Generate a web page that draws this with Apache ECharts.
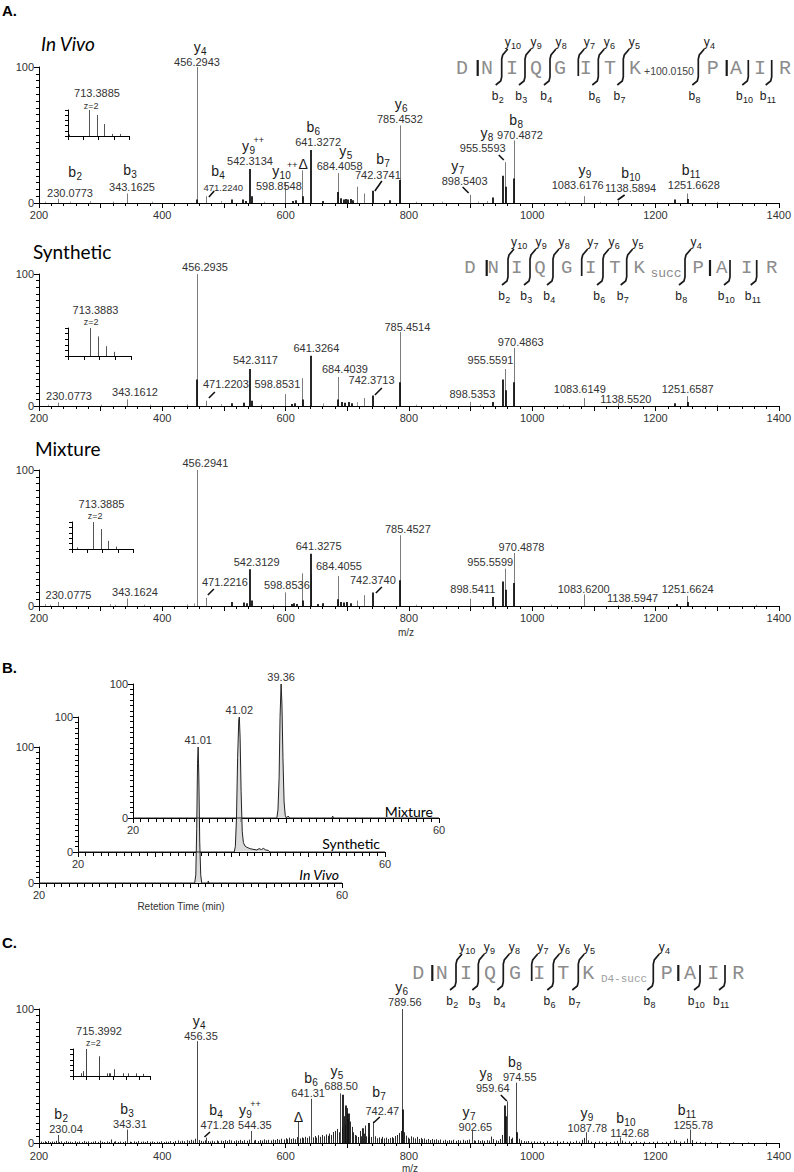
<!DOCTYPE html>
<html>
<head>
<meta charset="utf-8">
<title>Spectra</title>
<script src="https://cdn.jsdelivr.net/npm/echarts@6/dist/echarts.min.js"></script>
<style>
html,body{margin:0;padding:0;background:#ffffff;}
#chart{width:794px;height:1172px;}
</style>
</head>
<body>
<div id="chart"></div>
<script>
// ===================== DATA =====================
// Panel A - In Vivo (m/z, relative intensity %)
const invivoMz = [230.08, 343.16, 456.29, 471.22, 598.85, 626.8, 684.41, 716.0, 727.0, 785.45, 898.54, 955.56, 970.49, 1083.62, 1138.59, 1251.66];
const invivoInt = [3, 7, 100, 5, 15, 24, 22, 12, 7, 57, 6, 30, 46, 5, 1.5, 7];
const invivoDenseMz = [455.8, 513.5, 531, 536, 542.31, 545, 612, 617, 628.5, 641.33, 660, 684.9, 690, 694, 698, 702, 706, 710, 742.37, 769, 786, 936, 953, 957.5, 971, 1232, 1252.2];
const invivoDenseInt = [2.5, 2.5, 2.5, 1.5, 25, 5, 1.5, 2, 5, 39, 1.5, 8, 3.5, 2.5, 3, 2.5, 3, 2, 9, 2, 17, 4, 20, 12, 18, 2.5, 3];
const invivoMinorMz = [210, 250, 282, 320, 383, 496, 565, 812, 853, 912, 926, 1053, 1110, 1300];
const invivoMinorInt = [1, 1, 1.5, 1, 1, 1.5, 1, 1, 1, 1, 1.5, 1, 0.8, 0.8];
const invivoLabelMz = [230.08, 343.16, 456.29, 471.22, 542.31, 598.85, 626.8, 641.33, 684.41, 742.37, 785.45, 898.54, 955.56, 970.49, 1083.62, 1138.59, 1251.66];
const invivoIons = ['b2','b3','y4','b4','y9++','y10++','Δ','b6','y5','b7','y6','y7','y8','b8','y9','b10','b11'];
const invivoLabels = ['230.0773','343.1625','456.2943','471.2240','542.3134','598.8548','','641.3272','684.4058','742.3741','785.4532','898.5403','955.5593','970.4872','1083.6176','1138.5894','1251.6628'];

// Panel A - Synthetic
const synthMz = [230.08, 343.16, 456.29, 471.22, 598.85, 626.8, 684.40, 727.0, 785.45, 898.54, 955.56, 970.49, 1083.61, 1138.55, 1251.66];
const synthInt = [2.5, 5, 100, 4, 9, 21, 22, 6, 56, 3, 28, 44, 6, 2, 7.5];
const synthDenseMz = [455.8, 513.5, 533, 542.31, 545, 610, 615, 628.5, 641.33, 684.9, 692, 697, 703, 708, 742.37, 786, 936, 953, 957.5, 971, 1232, 1252.2];
const synthDenseInt = [20, 2, 2.5, 28, 4, 1.5, 2, 5, 38, 5, 3, 2.5, 3, 2, 8, 18, 3, 20, 12, 18, 2, 3];
const synthMinorMz = [215, 300, 380, 440, 496, 560, 660, 716, 812, 850, 915, 1050, 1300];
const synthMinorInt = [1, 1, 1, 1.2, 1.5, 1, 2, 3, 1, 1, 1, 1, 0.8];
const synthLabelMz = [230.08, 343.16, 456.29, 471.22, 542.31, 598.85, 641.33, 684.41, 742.37, 785.45, 898.54, 955.56, 970.49, 1083.62, 1138.59, 1251.66];
const synthLabels = ['230.0773','343.1612','456.2935','471.2203','542.3117','598.8531','641.3264','684.4039','742.3713','785.4514','898.5353','955.5591','970.4863','1083.6149','1138.5520','1251.6587'];

// Panel A - Mixture
const mixMz = [230.08, 343.16, 456.29, 471.22, 598.85, 626.8, 641.0, 684.41, 716.0, 727.0, 785.45, 898.54, 955.56, 970.49, 1083.62, 1138.59, 1251.66];
const mixInt = [3, 5.5, 100, 6, 10, 24, 23, 22, 4, 8, 52, 5.4, 27.5, 39, 8.5, 0.5, 7.5];
const mixDenseMz = [513.5, 533, 537, 542.31, 545, 610, 614, 618, 628.5, 641.33, 652, 660, 684.9, 690, 695, 700, 706, 742.37, 786, 936, 953, 957.5, 971, 1235, 1252.2];
const mixDenseInt = [3, 2.5, 2, 27, 4, 1.5, 2, 1.5, 4, 38.5, 1.5, 2, 5, 3, 2.5, 3, 2, 10, 19, 6.6, 18, 12, 17, 1.5, 3];
const mixMinorMz = [210, 218, 315, 323, 370, 440, 452, 580, 812, 1030, 1363];
const mixMinorInt = [1.5, 1, 1.5, 0.8, 1, 1.2, 2, 1, 1, 1, 1];
const mixLabelMz = [230.08, 343.16, 456.29, 471.22, 542.31, 598.85, 641.33, 684.41, 742.37, 785.45, 898.54, 955.56, 970.49, 1083.62, 1138.59, 1251.66];
const mixLabels = ['230.0775','343.1624','456.2941','471.2216','542.3129','598.8536','641.3275','684.4055','742.3740','785.4527','898.5411','955.5599','970.4878','1083.6200','1138.5947','1251.6624'];

// Precursor insets (m/z, %)
const insetInvivoMz = [712.05, 713.39, 713.89, 714.39, 714.89, 715.39];
const insetInvivoInt = [6, 100, 81, 46, 8, 8];
const insetSynthMz = [713.39, 713.89, 714.39, 714.89];
const insetSynthInt = [100, 70, 35, 15];
const insetMixMz = [712.3, 713.39, 713.89, 714.39, 714.89];
const insetMixInt = [6, 100, 74, 30, 9];
const insetCMz = [715.2, 715.29, 715.40, 715.89, 716.19, 716.24, 716.30, 716.45, 716.77, 716.98, 717.29, 717.54];
const insetCInt = [10, 18, 100, 73, 10, 10, 10, 25, 10, 10, 10, 8];
const precursorLabels = ['713.3885', '713.3883', '713.3885', '715.3992'];
const chargeLabel = 'z=2';

// Panel B - extracted ion chromatograms (retention time min, %)
const rtInvivo = [20, 40.55, 40.7, 40.82, 40.93, 41.01, 41.1, 41.22, 41.35, 41.48, 42.3, 42.35, 42.42, 60];
const intInvivo = [0, 0, 6, 40, 88, 100, 78, 30, 6, 0, 0, 1.5, 0, 0];
const rtSynth = [20, 40.35, 40.5, 40.65, 40.8, 40.95, 41.02, 41.12, 41.25, 41.4, 41.55, 41.75, 42.0, 42.4, 42.8, 43.3, 43.6, 43.9, 44.2, 44.4, 44.8, 45.0, 60];
const intSynth = [0, 0, 4, 25, 70, 98, 100, 85, 45, 15, 7, 4.5, 3.5, 2.5, 2, 1.5, 2.5, 1.8, 2.8, 1.5, 1.2, 0, 0];
const rtMix = [20, 38.8, 38.95, 39.1, 39.22, 39.36, 39.47, 39.6, 39.75, 39.9, 40.05, 40.3, 40.45, 46.0, 46.1, 46.2, 60];
const intMix = [0, 0, 6, 30, 75, 100, 85, 45, 12, 2, 0, 1.5, 0, 0, 1.5, 0, 0];
const apexRt = [41.01, 41.02, 39.36];
const apexLabels = ['41.01', '41.02', '39.36'];
const traceNames = ['In Vivo', 'Synthetic', 'Mixture'];

// Panel C - D4-succinyl
const cMz = [230.04, 343.31, 456.35, 471.28, 544.35, 620.5, 641.31, 688.8, 742.47, 789.56, 902.65, 959.64, 974.55, 1087.78, 1142.68, 1255.78];
const cInt = [6, 10, 76, 4, 9, 16, 33, 37, 16, 100, 9, 31, 45, 8, 4, 10];
const cDenseMz = [693.5, 698, 700.5, 725, 735, 790.3, 955.8, 958, 975.3];
const cDenseInt = [36, 28, 22, 11, 15, 25, 28, 20, 8];
const cIons = ['b2','b3','y4','b4','y9++','Δ','b6','y5','b7','y6','y7','y8','b8','y9','b10','b11'];
const cLabels = ['230.04','343.31','456.35','471.28','544.35','','641.31','688.50','742.47','789.56','902.65','959.64','974.55','1087.78','1142.68','1255.78'];
const cNoise = [[203,1.0],[206,0.6],[209,1.3],[212,0.8],[215,1.5],[218,0.7],[221,1.1],[224,0.9],[227,1.6],[233,0.8],[236,1.2],[240,0.6],[243,1.4],[247,0.9],[251,1.0],[254,0.6],[258,1.3],[262,0.8],[265,1.1],[269,0.7],[273,1.5],[276,0.9],[280,1.2],[284,0.6],[288,1.0],[291,1.4],[295,0.8],[299,1.8],[302,0.9],[306,0.7],[310,1.2],[313,0.8],[317,2.6],[321,0.9],[324,1.3],[328,0.7],[332,1.1],[336,0.8],[339,1.3],[347,1.0],[350,0.7],[354,1.2],[358,0.8],[361,1.4],[365,0.9],[369,1.1],[372,0.7],[376,1.5],[380,0.9],[384,1.2],[387,0.7],[391,1.0],[395,0.8],[398,1.3],[402,0.7],[406,1.1],[410,0.9],[413,1.4],[417,0.8],[421,1.5],[425,1.9],[428,1.2],[432,1.7],[436,1.3],[440,2.1],[444,1.6],[447,2.4],[450,1.8],[453,3.2],[459,2.2],[462,1.6],[466,1.2],[469,2.0],[474,1.5],[477,1.1],[481,1.7],[484,1.2],[488,1.9],[491,1.3],[495,1.8],[498,1.4],[502,2.1],[505,1.5],[509,2.4],[512,1.9],[516,1.4],[519,2.0],[523,1.6],[526,2.3],[530,1.5],[533,2.1],[537,1.7],[540,2.5],[548,1.8],[551,2.3],[555,1.5],[558,2.1],[562,1.8],[565,2.7],[569,2.0],[572,2.4],[576,1.9],[579,2.6],[583,2.2],[586,3.0],[590,2.4],[593,3.2],[597,2.6],[600,3.6],[603,2.8],[606,4.0],[609,3.0],[612,3.5],[615,2.8],[618,4.4],[623,3.4],[626,4.2],[629,3.6],[632,4.6],[635,3.8],[638,5.0],[644,4.2],[647,5.2],[650,4.0],[653,5.8],[656,4.6],[659,6.0],[662,5.0],[665,6.4],[668,5.4],[671,7.0],[674,6.0],[677,8.2],[680,9.0],[683,10.5],[686,8.0],[691,12],[694,20],[696,14],[699,26],[701,18],[703,22],[705,16],[707,12],[709,8],[712,6],[715,5.5],[718,4.5],[721,9],[723,5],[727,7],[729,13],[731,5],[733,4],[736,6],[739,4.5],[745,5],[748,3.5],[751,4.2],[754,3.2],[757,4.6],[760,3.4],[763,4.0],[766,3.0],[769,3.8],[772,4.4],[775,3.6],[778,5.2],[781,6.0],[784,7.5],[787,9],[792,8],[795,5.5],[798,4.0],[801,3.2],[804,5.0],[807,4.2],[810,3.4],[813,4.6],[816,3.0],[819,3.8],[822,2.8],[825,3.4],[828,2.4],[831,3.0],[835,2.2],[838,3.0],[841,2.4],[844,2.8],[848,2.0],[851,2.6],[855,1.8],[858,2.4],[862,1.6],[865,2.2],[869,1.8],[872,2.4],[876,1.6],[880,2.2],[883,1.8],[887,2.4],[891,1.7],[894,2.2],[898,2.6],[905,2.0],[908,1.6],[912,2.2],[915,1.5],[919,2.0],[922,1.6],[926,2.1],[930,1.8],[934,4.8],[937,3.0],[941,2.0],[944,1.6],[948,3.0],[951,6],[962,5],[965,3.0],[968,4.0],[979,3.2],[982,2.0],[986,1.4],[990,1.2],[994,1.5],[998,1.0],[1003,1.3],[1008,0.9],[1013,1.2],[1018,0.8],[1024,1.3],[1029,0.8],[1034,1.1],[1040,1.6],[1045,0.9],[1050,1.4],[1056,0.9],[1061,1.2],[1066,0.8],[1071,1.7],[1076,1.0],[1081,2.4],[1084,3.8],[1091,2.0],[1096,1.0],[1102,0.8],[1108,1.2],[1114,0.8],[1120,1.0],[1126,0.7],[1132,1.1],[1138,1.6],[1145,1.8],[1151,0.9],[1157,1.2],[1163,0.7],[1169,1.4],[1175,0.7],[1182,1.0],[1189,0.7],[1196,0.9],[1203,1.1],[1210,0.6],[1217,0.9],[1224,1.3],[1230,2.4],[1234,1.6],[1240,1.0],[1246,1.2],[1251,3.2],[1259,2.2],[1265,0.9],[1272,0.7],[1280,0.5],[1290,0.6],[1305,0.4],[1325,0.5],[1350,0.4],[1380,0.4]];

// Peptide sequence annotation
const peptide = ['D','N','I','Q','G','I','T','K','P','A','I','R'];
const cleavageKind = ['bar','both','both','both','top','both','both','both','bar','bottom','bottom'];
const yIonAtGap = ['','y10','y9','y8','y7','y6','y5','y4','','',''];
const bIonAtGap = ['','b2','b3','b4','','b6','b7','b8','','b10','b11'];
const modLabels = ['+100.0150', 'succ', 'D4-succ'];

// ===================== LAYOUT (pixel offsets, styles) =====================
const FONT = "'Liberation Sans', Arial, sans-serif";
const MONO = "'Liberation Mono', 'DejaVu Sans Mono', monospace";
const TF = "Lato, 'Open Sans', sans-serif";

// label offsets relative to the peak's baseline point
const invivoLabelLayout = [
 {ion:[17.5,-31], num:[12.5,-10]},
 {ion:[2.7,-33], num:[4.7,-16]},
 {ion:[3,-156], num:[0,-141]},
 {ion:[11.7,-32], num:[17,-16], small:true, lead:[2.7,-6,8,-12]},
 {ion:[3,-57], num:[0,-42]},
 {ion:[0,-32], num:[-6,-17]},
 {ion:[1,-39]},
 {ion:[2,-76], num:[7,-61]},
 {ion:[8,-52], num:[2,-37]},
 {ion:[9.5,-44], num:[4.5,-28], lead:[1.5,-12,8.5,-22]},
 {ion:[1,-99], num:[0,-84]},
 {ion:[-12,-37], num:[-5,-22], lead:[-7,-16,-1,-10]},
 {ion:[-18,-70], num:[-22,-55], lead:[-6,-48,-1,-43]},
 {ion:[2,-83], num:[6,-68]},
 {ion:[1,-33], num:[-6,-18]},
 {ion:[13,-30], num:[13,-15], lead:[0,-3,7,-8]},
 {ion:[3.5,-33], num:[6.5,-18]}
];
const synthLabelLayout = [
 {num:[11.5,-10]}, {num:[7.7,-14]}, {num:[8,-139]}, {num:[19.7,-22], lead:[2.7,-8,8.7,-14]},
 {num:[5.4,-46]}, {num:[-7.5,-22]}, {num:[5.3,-58]}, {num:[7.3,-37]}, {num:[-1.8,-26], lead:[1.5,-11,8.5,-18]},
 {num:[7.5,-79]}, {num:[2.7,-12]}, {num:[-14.3,-46]}, {num:[6.8,-64]}, {num:[-3.9,-17]}, {num:[8.2,-7]}, {num:[0.4,-17]}
];
const mixLabelLayout = [
 {num:[11,-11]}, {num:[7.7,-14]}, {num:[8.4,-143]}, {num:[18.7,-24], lead:[1.7,-11,7.7,-17]},
 {num:[6.6,-44]}, {num:[2,-21]}, {num:[7.6,-60]}, {num:[1.3,-40]}, {num:[-0.5,-26], lead:[2.5,-13,8.5,-19]},
 {num:[8,-77]}, {num:[3.2,-17]}, {num:[-14.5,-44]}, {num:[7.5,-59]}, {num:[0,-17]}, {num:[15,-8]}, {num:[0.4,-17]}
];
const cLabelLayout = [
 {ion:[3.5,-29], num:[8.5,-14]},
 {ion:[-0.4,-34], num:[2.6,-19]},
 {ion:[2,-122], num:[4,-107]},
 {ion:[9.7,-33], num:[11.2,-18], lead:[-1.8,-6,3.7,-11]},
 {ion:[-1.4,-33], num:[3.6,-18]},
 {ion:[0.2,-26]},
 {ion:[-0.2,-65], num:[-2.9,-50]},
 {ion:[-3.5,-72], num:[0.8,-57]},
 {ion:[5.4,-51], num:[8.9,-32], lead:[-0.1,-20,6.4,-26]},
 {ion:[-0.9,-156], num:[2.4,-141]},
 {ion:[-3.3,-31], num:[3.2,-16]},
 {ion:[-21.5,-70], num:[-14.5,-55], lead:[-6.5,-48,-0.5,-42]},
 {ion:[-1.7,-81], num:[3.3,-66]},
 {ion:[0.5,-30], num:[1,-15]},
 {ion:[5.6,-25], num:[9.6,-10]},
 {ion:[-3.1,-33], num:[3.4,-18]}
];

const seqLayout = [
 {y:68, size:20, letterX:[462,487,512,536,560,585.7,610,635,712.7,736,760,785], gapX:[477.7,501.7,525,550,578.3,598.3,623.3,698.3,726.7,748.3,771.7], modX:669, modY:71, modFont:"10.5px "+FONT, modColor:'#444'},
 {y:268, size:19, letterX:[470,493.3,516.7,540,566.7,590.7,615,639.3,698.3,721.7,746.7,771.7], gapX:[486.7,508,530,553,581.7,603,626.7,685,710,730,756.7], modX:666, modY:273, modFont:"13px "+MONO, modColor:'#8a8a8a'},
 {y:973, size:20, letterX:[418.3,441.7,466,490,515,539.3,563.3,588.3,666.7,690,713.3,738.3], gapX:[432.3,456,478.3,503.3,531.7,553.3,578.3,653.3,678.3,700,725], modX:624, modY:979, modFont:"11px "+MONO, modColor:'#a0a0a0'}
];

// ===================== HELPERS =====================
const measCtx = document.createElement('canvas').getContext('2d');
function tw(s, size) { measCtx.font = size + 'px ' + FONT; return measCtx.measureText(s).width; }

function ionPieces(label, cx, cy, sz, color) {
  const m = label.match(/^([^\d+]+)(\d*)(\+*)$/);
  const base = m[1], sub = m[2], sup = m[3];
  const wb = tw(base, sz[0]), ws = sub ? tw(sub, sz[1]) : 0, wp = sup ? tw(sup, sz[2]) : 0;
  const supX = wb + ws * 0.6 + 1;
  const total = Math.max(wb + ws, sup ? supX + wp : 0);
  const x0 = cx - total / 2;
  const st = (t, f) => ({text: t, font: f + 'px ' + FONT, fill: color || '#1a1a1a', align: 'left', verticalAlign: 'middle'});
  const out = [{type: 'text', x: x0, y: cy, style: st(base, sz[0])}];
  if (sub) out.push({type: 'text', x: x0 + wb + 0.3, y: cy + sz[0] * 0.32, style: st(sub, sz[1])});
  if (sup) out.push({type: 'text', x: x0 + supX, y: cy - sz[0] * 0.42, style: st(sup, sz[2])});
  return out;
}

function zip(a, b) { return a.map((v, i) => [v, b[i]]); }

function stickSeries(gi, data, color, lw, z) {
  return {type: 'custom', xAxisIndex: gi, yAxisIndex: gi, silent: true, clip: false, animation: false, z: z || 2,
    data: data,
    renderItem: function (params, api) {
      const b = api.coord([api.value(0), 0]);
      const t = api.coord([api.value(0), api.value(1)]);
      const x = lw < 1.5 ? Math.round(b[0]) + 0.5 : Math.round(b[0]);
      return {type: 'line', shape: {x1: x, y1: b[1], x2: x, y2: t[1]}, style: {stroke: color, lineWidth: lw}};
    }};
}

function annotSeries(gi, mz, ions, nums, layout, numSize) {
  return {type: 'custom', xAxisIndex: gi, yAxisIndex: gi, silent: true, clip: false, animation: false, z: 6,
    data: mz.map(m => [m, 0]),
    renderItem: function (params, api) {
      const i = params.dataIndex, L = layout[i];
      const p = api.coord([api.value(0), 0]);
      const ch = [];
      if (L.lead) ch.push({type: 'line', shape: {x1: p[0] + L.lead[0], y1: p[1] + L.lead[1], x2: p[0] + L.lead[2], y2: p[1] + L.lead[3]}, style: {stroke: '#111', lineWidth: 1.6}});
      if (L.num && nums && nums[i]) ch.push({type: 'text', x: p[0] + L.num[0], y: p[1] + L.num[1], style: {text: nums[i], font: (L.small ? 9.5 : numSize) + 'px ' + FONT, fill: '#333', align: 'center', verticalAlign: 'middle'}});
      if (L.ion && ions && ions[i]) ionPieces(ions[i], p[0] + L.ion[0], p[1] + L.ion[1], [14, 10, 9]).forEach(e => ch.push(e));
      return {type: 'group', children: ch};
    }};
}

function apexSeries(gi, rt, text) {
  return {type: 'custom', xAxisIndex: gi, yAxisIndex: gi, silent: true, clip: false, animation: false, z: 6,
    data: [[rt, 100]],
    renderItem: function (params, api) {
      const p = api.coord([api.value(0), api.value(1)]);
      return {type: 'text', x: p[0], y: p[1] - 7, style: {text: text, font: '11px ' + FONT, fill: '#333', align: 'center', verticalAlign: 'middle'}};
    }};
}

function traceSeries(gi, rt, ints) {
  return {type: 'line', xAxisIndex: gi, yAxisIndex: gi, data: zip(rt, ints), symbol: 'none', silent: true, animation: false, z: 3,
    lineStyle: {color: '#222', width: 1}, areaStyle: {color: '#cfcfcf', opacity: 0.75}};
}

// ===================== AXES =====================
const AX = {color: '#000', width: 1};
const grids = [
  {left: 39, top: 67, width: 740, height: 136},
  {left: 68, top: 110, width: 61, height: 26},
  {left: 39, top: 274, width: 740, height: 132},
  {left: 68, top: 328, width: 63, height: 28},
  {left: 39, top: 470, width: 740, height: 136},
  {left: 72, top: 522, width: 61, height: 27},
  {left: 39, top: 747, width: 303, height: 136},
  {left: 78, top: 717, width: 307, height: 135},
  {left: 133, top: 684, width: 306, height: 134},
  {left: 39, top: 1009, width: 740, height: 134},
  {left: 73, top: 1049, width: 77, height: 27}
];
function mzX(gi, margin) {
  return {gridIndex: gi, type: 'value', min: 200, max: 1400, interval: 100,
    axisLine: {show: true, onZero: false, lineStyle: AX}, axisTick: {show: true, length: 5, lineStyle: AX},
    minorTick: {show: true, splitNumber: 5, length: 3, lineStyle: AX},
    axisLabel: {show: true, margin: margin, fontSize: 11, fontFamily: FONT, color: '#333', formatter: v => (v % 200 === 0 ? String(v) : '')},
    splitLine: {show: false}, minorSplitLine: {show: false}};
}
function pctY(gi, minorSplit) {
  return {gridIndex: gi, type: 'value', min: 0, max: 100, interval: 100,
    axisLine: {show: true, onZero: false, lineStyle: AX}, axisTick: {show: true, length: 5, lineStyle: AX},
    minorTick: {show: true, splitNumber: minorSplit, length: 3, lineStyle: AX},
    axisLabel: {show: true, margin: 5, fontSize: 11, fontFamily: FONT, color: '#333'},
    splitLine: {show: false}, minorSplitLine: {show: false}};
}
function insetX(gi, min, max, interval) {
  return {gridIndex: gi, type: 'value', min: min, max: max, interval: interval,
    axisLine: {show: true, onZero: false, lineStyle: AX}, axisTick: {show: true, length: 4, lineStyle: AX},
    axisLabel: {show: false}, splitLine: {show: false}};
}
function insetY(gi) {
  return {gridIndex: gi, type: 'value', min: 0, max: 100, interval: 20,
    axisLine: {show: true, onZero: false, lineStyle: AX}, axisTick: {show: true, length: 3, lineStyle: AX},
    axisLabel: {show: false}, splitLine: {show: false}};
}
function rtX(gi) {
  return {gridIndex: gi, type: 'value', min: 20, max: 60, interval: 10,
    axisLine: {show: true, onZero: false, lineStyle: AX}, axisTick: {show: true, length: 5, lineStyle: AX},
    minorTick: {show: true, splitNumber: 10, length: 4, lineStyle: AX},
    axisLabel: {show: true, margin: 6, fontSize: 11, fontFamily: FONT, color: '#333', formatter: v => ((v === 20 || v === 60) ? String(v) : '')},
    splitLine: {show: false}, minorSplitLine: {show: false}};
}

const xAxes = [mzX(0, 6), insetX(1, 712, 716, 1), mzX(2, 6), insetX(3, 712, 716, 1), mzX(4, 6), insetX(5, 712, 716, 1),
  rtX(6), rtX(7), rtX(8), mzX(9, 7), insetX(10, 714.9, 717.8, 0.5)];
const yAxes = [pctY(0, 20), insetY(1), pctY(2, 20), insetY(3), pctY(4, 20), insetY(5),
  pctY(6, 25), pctY(7, 25), pctY(8, 25), pctY(9, 20), insetY(10)];

// ===================== SERIES =====================
const GRAY = '#7c7c7c', DARK = '#111';
const series = [
  stickSeries(0, zip(invivoMinorMz, invivoMinorInt), '#9a9a9a', 1),
  stickSeries(0, zip(invivoMz, invivoInt), GRAY, 1),
  stickSeries(0, zip(invivoDenseMz, invivoDenseInt), DARK, 1.8, 3),
  annotSeries(0, invivoLabelMz, invivoIons, invivoLabels, invivoLabelLayout, 11),
  stickSeries(1, zip(insetInvivoMz, insetInvivoInt), '#555', 1),

  stickSeries(2, zip(synthMinorMz, synthMinorInt), '#9a9a9a', 1),
  stickSeries(2, zip(synthMz, synthInt), GRAY, 1),
  stickSeries(2, zip(synthDenseMz, synthDenseInt), DARK, 1.8, 3),
  annotSeries(2, synthLabelMz, null, synthLabels, synthLabelLayout, 11),
  stickSeries(3, zip(insetSynthMz, insetSynthInt), '#555', 1),

  stickSeries(4, zip(mixMinorMz, mixMinorInt), '#9a9a9a', 1),
  stickSeries(4, zip(mixMz, mixInt), GRAY, 1),
  stickSeries(4, zip(mixDenseMz, mixDenseInt), DARK, 1.8, 3),
  annotSeries(4, mixLabelMz, null, mixLabels, mixLabelLayout, 11),
  stickSeries(5, zip(insetMixMz, insetMixInt), '#555', 1),

  traceSeries(6, rtInvivo, intInvivo),
  traceSeries(7, rtSynth, intSynth),
  traceSeries(8, rtMix, intMix),
  apexSeries(6, apexRt[0], apexLabels[0]),
  apexSeries(7, apexRt[1], apexLabels[1]),
  apexSeries(8, apexRt[2], apexLabels[2]),

  stickSeries(9, cNoise, '#2a2a2a', 1),
  stickSeries(9, zip(cMz, cInt), '#4a4a4a', 1, 3),
  stickSeries(9, zip(cDenseMz, cDenseInt), DARK, 1.8, 3),
  annotSeries(9, cMz, cIons, cLabels, cLabelLayout, 11),
  stickSeries(10, zip(insetCMz, insetCInt), '#444', 1)
];

// ===================== GRAPHIC TEXT / SEQUENCES =====================
const G = [];
function txt(x, y, text, font, o) {
  G.push({type: 'text', x: x, y: y, z: 20, silent: true,
    style: Object.assign({text: text, font: font, fill: '#1a1a1a', align: 'center', verticalAlign: 'middle'}, o || {})});
}
txt(2, 10, 'A.', "bold 15px " + FONT, {align: 'left', fill: '#000'});
txt(41, 43, 'In Vivo', "italic 19px " + TF, {align: 'left', fill: '#000'});
txt(33, 251, 'Synthetic', "19px " + TF, {align: 'left', fill: '#000'});
txt(35, 448, 'Mixture', "19px " + TF, {align: 'left', fill: '#000'});
txt(406, 632, 'm/z', "10px " + FONT, {fill: '#333'});
txt(2, 667, 'B.', "bold 15px " + FONT, {align: 'left', fill: '#000'});
txt(433, 811, traceNames[2], "14px " + TF, {align: 'right', fill: '#000'});
txt(380, 843, traceNames[1], "14px " + TF, {align: 'right', fill: '#000'});
txt(339, 874, traceNames[0], "italic 14px " + TF, {align: 'right', fill: '#000'});
txt(181, 906, 'Retetion Time (min)', "10px " + FONT, {fill: '#333'});
txt(2, 942, 'C.', "bold 15px " + FONT, {align: 'left', fill: '#000'});
txt(410, 1168, 'm/z', "10px " + FONT, {fill: '#333'});

// inset annotations
const insetLabelPos = [[97, 93, 91, 106], [95.5, 310, 91, 322], [101.5, 504, 95, 516], [99, 1031, 93.3, 1043]];
insetLabelPos.forEach((p, k) => {
  txt(p[0], p[1], precursorLabels[k], "11px " + FONT, {fill: '#333'});
  txt(p[2], p[3], chargeLabel, "9px " + FONT, {fill: '#333'});
});

// sequences
seqLayout.forEach((row, r) => {
  const y = row.y;
  peptide.forEach((aa, i) => txt(row.letterX[i], y, aa, row.size + "px " + MONO, {fill: '#8c8c8c'}));
  txt(row.modX, row.modY, modLabels[r], row.modFont, {fill: row.modColor});
  cleavageKind.forEach((kind, g) => {
    const gx = row.gapX[g];
    let pts;
    if (kind === 'bar') pts = [[gx, y - 8], [gx, y + 8]];
    else if (kind === 'both') pts = [[gx + 6, y - 19], [gx + 1, y - 13], [gx, y - 9], [gx, y + 9], [gx - 1, y + 13], [gx - 6, y + 17]];
    else if (kind === 'top') pts = [[gx + 6, y - 19], [gx + 1, y - 13], [gx, y - 9], [gx, y + 8]];
    else pts = [[gx, y - 8], [gx, y + 9], [gx - 1, y + 13], [gx - 6, y + 17]];
    G.push({type: 'polyline', z: 20, silent: true, shape: {points: pts},
      style: {stroke: '#1a1a1a', lineWidth: kind === 'bar' ? 2.2 : 1.7, fill: 'none'}});
    if (yIonAtGap[g]) ionPieces(yIonAtGap[g], gx + 11, y - 26, [12, 9, 9]).forEach(e => { e.z = 20; G.push(e); });
    if (bIonAtGap[g]) ionPieces(bIonAtGap[g], gx - 4, y + 28, [12, 9, 9]).forEach(e => { e.z = 20; G.push(e); });
  });
});

// ===================== CHART =====================
const chart = echarts.init(document.getElementById('chart'), null, {renderer: 'svg', width: 794, height: 1172});
chart.setOption({
  animation: false,
  backgroundColor: '#ffffff',
  grid: grids,
  xAxis: xAxes,
  yAxis: yAxes,
  series: series,
  graphic: {elements: G}
});
</script>
</body>
</html>
